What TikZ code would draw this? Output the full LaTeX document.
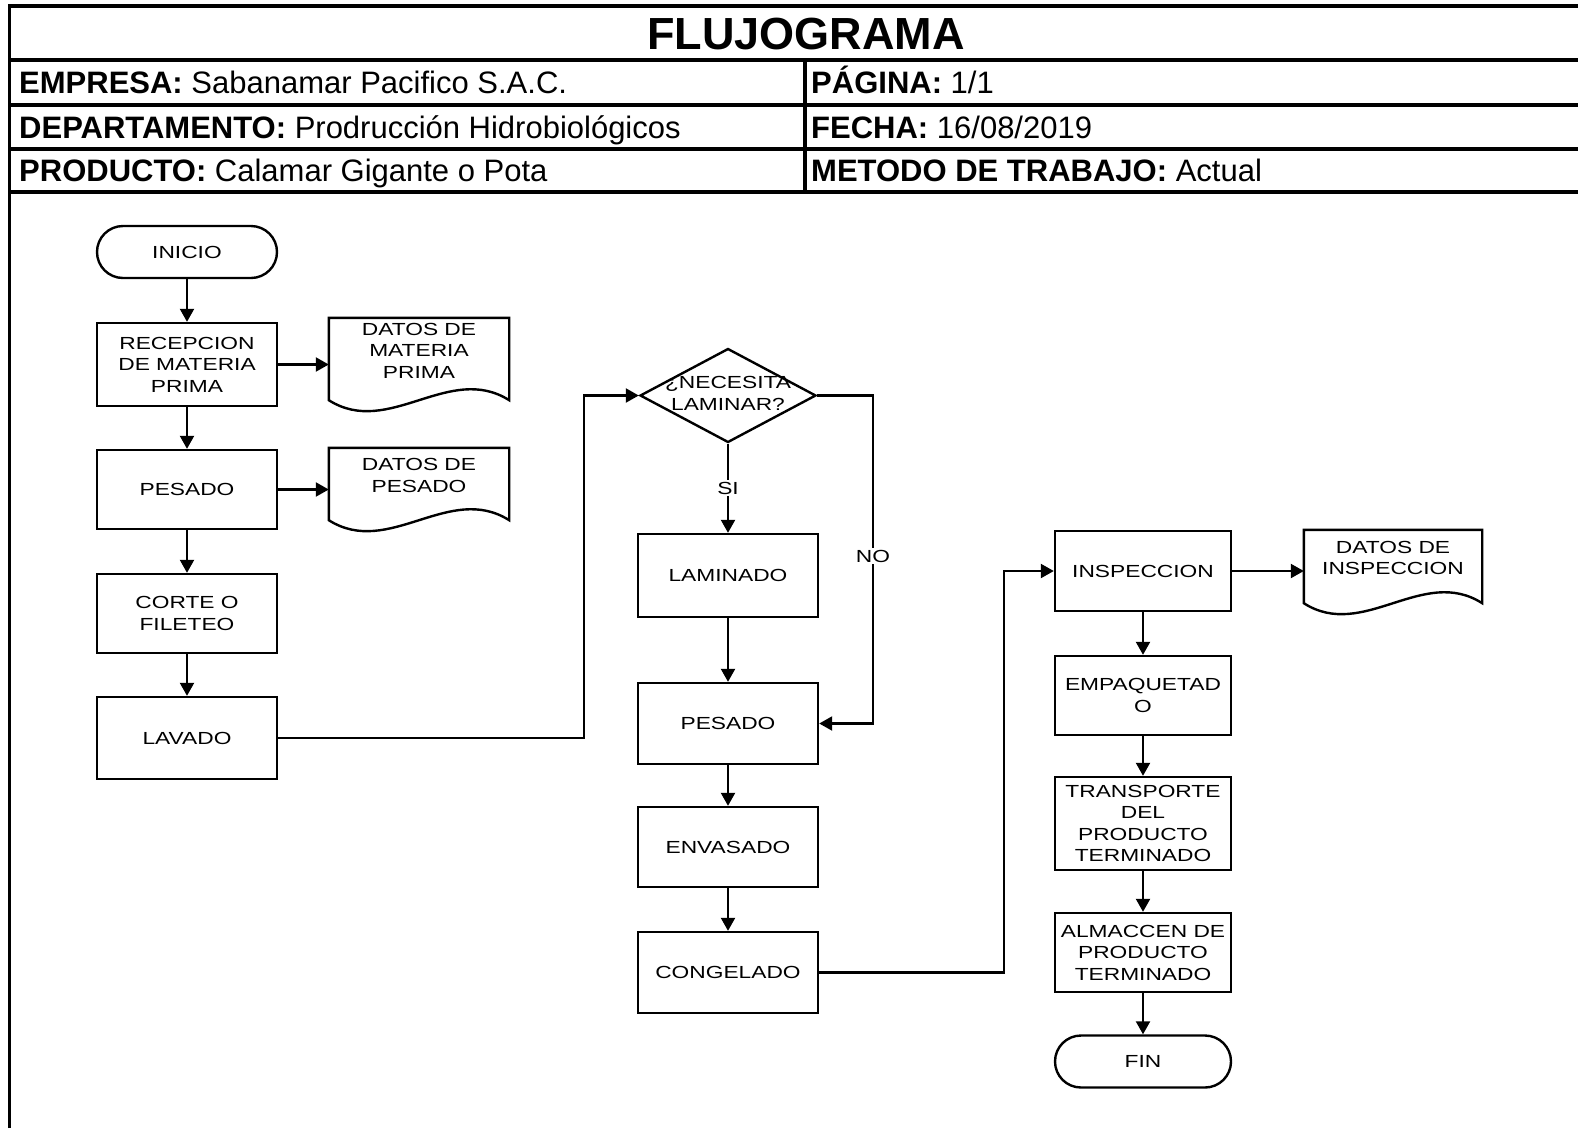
\documentclass[tikz,border=0pt]{standalone}
\usepackage{fontspec}
\setmainfont{Liberation Sans}
\newfontfamily\flowfont{Liberation Sans}[FakeStretch=1.3]
\usetikzlibrary{arrows.meta,shapes.geometric,calc}

\newcommand\flowtxt{\flowfont\fontsize{17.5}{21.5}\selectfont}
\newcommand\hdrtxt{\fontsize{31}{36}\selectfont}

\tikzset{
  rule/.style={line width=3.5pt},
  hdr/.style={anchor=base west, inner sep=0pt, font=\hdrtxt},
  procbox/.style={draw, line width=2.4pt, inner sep=2pt, align=center, font=\flowtxt},
  termbox/.style={procbox, rounded corners=26pt},
  docbox/.style={inner sep=2pt, align=center, font=\flowtxt},
  docline/.style={line width=2.4pt},
  decbox/.style={draw, diamond, line width=2.4pt, inner sep=0pt},
  flow/.style={line width=2.2pt, -{Triangle[length=13pt,width=14pt]}},
  tag/.style={fill=white, inner sep=2pt, font=\flowtxt},
}

% document symbol: straight top and sides, wavy bottom edge
\newcommand\docoutline[1]{%
  \draw[docline] ($(#1.north west)+(0,17)$) -- (#1.south west)
    .. controls ($(#1.south west)!0.333!(#1.south east)+(0,38)$)
    and ($(#1.south west)!0.667!(#1.south east)+(0,-38)$) .. (#1.south east)
    -- ($(#1.north east)+(0,17)$) -- cycle;}

\begin{document}
\begin{tikzpicture}[x=1pt,y=-1pt]
\useasboundingbox (0,0) rectangle (1578,1128);
\fill[white] (0,0) rectangle (1578,1128);

% ---- header table ----
\draw[rule] (9.5,1128) -- (9.5,6) -- (1578,6);
\foreach \yy in {60,105,149,192} \draw[rule] (9.5,\yy) -- (1578,\yy);
\draw[rule] (805,60) -- (805,192);

\node[font=\bfseries\fontsize{45}{50}\selectfont, anchor=base, inner sep=0pt] (title) at (806,49) {FLUJOGRAMA};
\node[hdr] (hemp) at (19,93.5) {\textbf{EMPRESA:} Sabanamar Pacifico S.A.C.};
\node[hdr] (hpag) at (811,93.5) {\textbf{PÁGINA:} 1/1};
\node[hdr] (hdep) at (19,138) {\textbf{DEPARTAMENTO:} Prodrucción Hidrobiológicos};
\node[hdr] (hfec) at (811,138) {\textbf{FECHA:} 16/08/2019};
\node[hdr] (hpro) at (19,181.5) {\textbf{PRODUCTO:} Calamar Gigante o Pota};
\node[hdr] (hmet) at (811,181.5) {\textbf{METODO DE TRABAJO:} Actual};

% ---- first column ----
\node[termbox, minimum width=180pt, minimum height=52pt] (ini) at (187,252) {INICIO};
\node[procbox, minimum width=180pt, minimum height=83pt] (rec) at (187,364.5) {RECEPCION\\DE MATERIA\\PRIMA};
\node[procbox, minimum width=180pt, minimum height=79pt] (pes1) at (187,489.5) {PESADO};
\node[procbox, minimum width=180pt, minimum height=79pt] (cor) at (187,613.5) {CORTE O\\FILETEO};
\node[procbox, minimum width=180pt, minimum height=82pt] (lav) at (187,738) {LAVADO};

\node[docbox, minimum width=180pt, minimum height=99pt] (d1) at (419,350.5) {DATOS DE\\MATERIA\\PRIMA};
\node[docbox, minimum width=180pt, minimum height=89pt] (d2) at (419,475.5) {DATOS DE\\PESADO};
\docoutline{d1}
\docoutline{d2}

% ---- second column ----
\node[decbox, minimum width=176pt, minimum height=94pt,
      label={[docbox, yshift=2pt]center:{¿NECESITA\\LAMINAR?}}] (dec) at (728,395.5) {};
\node[procbox, minimum width=180pt, minimum height=83pt] (lam) at (728,575.5) {LAMINADO};
\node[procbox, minimum width=180pt, minimum height=81pt] (pes2) at (728,723.5) {PESADO};
\node[procbox, minimum width=180pt, minimum height=80pt] (env) at (728,847) {ENVASADO};
\node[procbox, minimum width=180pt, minimum height=81pt] (con) at (728,972.5) {CONGELADO};

% ---- third column ----
\node[procbox, minimum width=176pt, minimum height=80pt] (ins) at (1143,571) {INSPECCION};
\node[procbox, minimum width=176pt, minimum height=79pt] (emq) at (1143,695.5) {EMPAQUETAD\\O};
\node[procbox, minimum width=176pt, minimum height=93pt] (tra) at (1143,823.5) {TRANSPORTE\\DEL\\PRODUCTO\\TERMINADO};
\node[procbox, minimum width=176pt, minimum height=79pt] (alm) at (1143,952.5) {ALMACCEN DE\\PRODUCTO\\TERMINADO};
\node[termbox, minimum width=176pt, minimum height=52pt] (fin) at (1143,1061.5) {FIN};

\node[docbox, minimum width=178pt, minimum height=90pt] (d3) at (1393,558) {DATOS DE\\INSPECCION};
\docoutline{d3}

% ---- connectors ----
\coordinate (lx) at (584,0);
\coordinate (nx) at (873,0);
\coordinate (kx) at (1004,0);

\draw[flow] (ini) -- (rec);
\draw[flow] (rec) -- (pes1);
\draw[flow] (pes1) -- (cor);
\draw[flow] (cor) -- (lav);
\draw[flow] (rec.east) -- (rec.east -| d1.west);
\draw[flow] (pes1.east) -- (pes1.east -| d2.west);

\draw[flow] (lav.east) -- (lav.east -| lx) -- (dec.west -| lx) -- (dec.west);
\draw[flow] (dec.south) -- node[tag]{SI} (lam.north);
\draw[flow] (dec.east) -- (dec.east -| nx) -- node[tag, pos=0.49]{NO} (pes2.east -| nx) -- (pes2.east);
\draw[flow] (lam) -- (pes2);
\draw[flow] (pes2) -- (env);
\draw[flow] (env) -- (con);

\draw[flow] (con.east) -- (con.east -| kx) -- (ins.west -| kx) -- (ins.west);
\draw[flow] (ins.east) -- (ins.east -| d3.west);
\draw[flow] (ins) -- (emq);
\draw[flow] (emq) -- (tra);
\draw[flow] (tra) -- (alm);
\draw[flow] (alm) -- (fin);
\end{tikzpicture}
\end{document}
